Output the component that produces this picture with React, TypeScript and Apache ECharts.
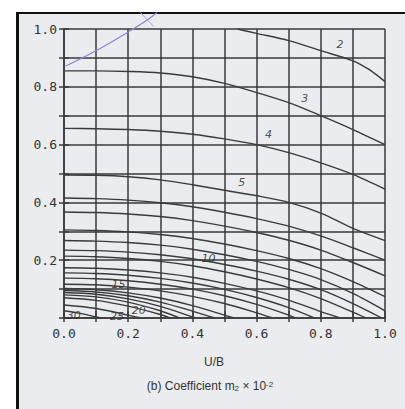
import React, { useEffect, useRef } from 'react';
import * as echarts from 'echarts';

// Tick labels (only even tenths are labelled)
const X_LABELS = ['0.0', '0.2', '0.4', '0.6', '0.8', '1.0'];
const Y_LABELS = ['', '0.2', '0.4', '0.6', '0.8', '1.0'];

// Curves of m2 (x = U/B, y = ordinate)
const C2 = [[0.54, 1.0], [0.6, 0.985], [0.7, 0.96], [0.8, 0.925], [0.9, 0.89], [0.95, 0.86], [1.0, 0.818]];
const C3 = [[0, 0.855], [0.1, 0.855], [0.2, 0.853], [0.3, 0.848], [0.4, 0.835], [0.5, 0.812], [0.6, 0.78], [0.7, 0.745], [0.8, 0.7], [0.9, 0.652], [1.0, 0.6]];
const C4 = [[0, 0.656], [0.1, 0.655], [0.2, 0.652], [0.3, 0.646], [0.4, 0.636], [0.5, 0.62], [0.6, 0.6], [0.7, 0.572], [0.8, 0.537], [0.9, 0.497], [1.0, 0.446]];
const C5 = [[0, 0.495], [0.1, 0.494], [0.2, 0.489], [0.3, 0.478], [0.4, 0.461], [0.5, 0.442], [0.6, 0.423], [0.7, 0.4], [0.8, 0.363], [0.9, 0.31], [1.0, 0.268]];
const C6 = [[0, 0.415], [0.1, 0.413], [0.2, 0.408], [0.3, 0.399], [0.4, 0.385], [0.5, 0.366], [0.6, 0.344], [0.7, 0.318], [0.8, 0.284], [0.9, 0.243], [1.0, 0.2]];
const C7 = [[0, 0.367], [0.1, 0.365], [0.2, 0.36], [0.3, 0.351], [0.4, 0.337], [0.5, 0.318], [0.6, 0.296], [0.7, 0.269], [0.8, 0.235], [0.9, 0.192], [1.0, 0.146]];
const C8 = [[0, 0.305], [0.1, 0.303], [0.2, 0.298], [0.3, 0.289], [0.4, 0.275], [0.5, 0.256], [0.6, 0.233], [0.7, 0.206], [0.8, 0.171], [0.9, 0.126], [1.0, 0.074]];
const C9 = [[0, 0.268], [0.1, 0.266], [0.2, 0.261], [0.3, 0.252], [0.4, 0.238], [0.5, 0.219], [0.6, 0.196], [0.7, 0.168], [0.8, 0.133], [0.9, 0.085], [1.0, 0.025]];
const C10 = [[0, 0.235], [0.1, 0.233], [0.2, 0.228], [0.3, 0.219], [0.4, 0.205], [0.5, 0.185], [0.6, 0.162], [0.7, 0.134], [0.8, 0.098], [0.9, 0.05], [0.99, 0]];
const C11 = [[0, 0.214], [0.1, 0.212], [0.2, 0.206], [0.3, 0.196], [0.4, 0.181], [0.5, 0.16], [0.6, 0.135], [0.7, 0.105], [0.8, 0.067], [0.9, 0.02], [0.94, 0]];
const C12 = [[0, 0.174], [0.1, 0.172], [0.2, 0.166], [0.3, 0.156], [0.4, 0.141], [0.5, 0.12], [0.6, 0.094], [0.7, 0.062], [0.8, 0.022], [0.86, 0]];
const C13 = [[0, 0.156], [0.1, 0.154], [0.2, 0.148], [0.3, 0.137], [0.4, 0.121], [0.5, 0.099], [0.6, 0.071], [0.7, 0.036], [0.78, 0]];
const C14 = [[0, 0.138], [0.1, 0.136], [0.2, 0.129], [0.3, 0.117], [0.4, 0.1], [0.5, 0.077], [0.6, 0.047], [0.7, 0.01], [0.72, 0]];
const C15 = [[0, 0.117], [0.1, 0.115], [0.2, 0.107], [0.3, 0.094], [0.4, 0.075], [0.5, 0.05], [0.6, 0.018], [0.65, 0]];
const C16 = [[0, 0.102], [0.1, 0.098], [0.2, 0.087], [0.3, 0.069], [0.4, 0.043], [0.5, 0.01], [0.53, 0]];
const C17 = [[0, 0.095], [0.1, 0.09], [0.2, 0.077], [0.3, 0.055], [0.4, 0.024], [0.47, 0]];
const C18 = [[0, 0.088], [0.1, 0.082], [0.2, 0.066], [0.3, 0.04], [0.4, 0.004], [0.41, 0]];
const C19 = [[0, 0.08], [0.1, 0.073], [0.2, 0.055], [0.3, 0.025], [0.36, 0]];
const C20 = [[0, 0.07], [0.1, 0.061], [0.2, 0.041], [0.3, 0.012], [0.33, 0]];
const C25 = [[0, 0.045], [0.1, 0.033], [0.2, 0.01], [0.24, 0]];
const C30 = [[0, 0.025], [0.05, 0.016], [0.1, 0.004], [0.12, 0]];

const CURVES = [C2, C3, C4, C5, C6, C7, C8, C9, C10, C11, C12, C13, C14, C15, C16, C17, C18, C19, C20, C25, C30];

// Curve labels: [x, y, text]
const CURVE_LABELS = [
  [0.86, 0.945, '2'],
  [0.75, 0.76, '3'],
  [0.637, 0.634, '4'],
  [0.554, 0.468, '5'],
  [0.45, 0.205, '10'],
  [0.17, 0.115, '15'],
  [0.233, 0.026, '20'],
  [0.165, 0.006, '25'],
  [0.03, 0.008, '30'],
];

// Blue pen mark on the scan
const PEN_A = [[0.005, 0.872], [0.1, 0.925], [0.2, 0.99], [0.264, 1.035], [0.29, 1.057]];
const PEN_B = [[0.238, 1.057], [0.279, 1.009]];

const INK = '#3a3a3a';

export default function App() {
  const ref = useRef<HTMLDivElement>(null);
  useEffect(() => {
    if (!ref.current) return;
    const chart = echarts.init(ref.current, undefined, { renderer: 'svg' });
    const axisStyle = { color: INK, width: 1.5 };
    const labelFont = { fontFamily: 'DejaVu Sans Mono', fontSize: 13, color: '#333' };
    const series: any[] = CURVES.map((pts) => ({
      type: 'line',
      data: pts,
      smooth: 0.3,
      showSymbol: false,
      silent: true,
      lineStyle: { color: INK, width: 1.4 },
    }));
    series.push({
      type: 'line',
      data: PEN_A,
      smooth: 0.3,
      showSymbol: false,
      silent: true,
      clip: false,
      lineStyle: { color: '#8585d8', width: 1.2 },
    });
    series.push({
      type: 'line',
      data: PEN_B,
      showSymbol: false,
      silent: true,
      clip: false,
      lineStyle: { color: '#9a9ade', width: 1 },
    });
    series.push({
      type: 'scatter',
      data: CURVE_LABELS.map((d) => ({ value: [d[0], d[1]], name: d[2] })),
      symbolSize: 0,
      silent: true,
      clip: false,
      label: {
        show: true,
        position: 'inside',
        formatter: (p: any) => p.name,
        fontFamily: 'DejaVu Sans',
        fontStyle: 'italic',
        fontSize: 11,
        color: '#222',
      },
    });
    chart.setOption({
      animation: false,
      backgroundColor: 'transparent',
      grid: { left: 64, right: 20, top: 29, bottom: 91 },
      xAxis: [
        {
          type: 'value',
          min: 0,
          max: 1,
          interval: 0.1,
          position: 'bottom',
          axisLine: { show: true, lineStyle: axisStyle },
          axisTick: { show: true, inside: false, length: 4, lineStyle: axisStyle },
          splitLine: { show: true, lineStyle: axisStyle },
          axisLabel: {
            ...labelFont,
            margin: 9,
            formatter: (v: number) => {
              const k = Math.round(v * 10);
              return k % 2 === 0 ? X_LABELS[k / 2] : '';
            },
          },
        },
        {
          type: 'value',
          min: 0,
          max: 1,
          interval: 0.1,
          position: 'top',
          axisLine: { show: false },
          axisTick: { show: true, inside: false, length: 7, lineStyle: axisStyle },
          splitLine: { show: false },
          axisLabel: { show: false },
        },
      ],
      yAxis: [
        {
          type: 'value',
          min: 0,
          max: 1,
          interval: 0.1,
          position: 'left',
          axisLine: { show: true, lineStyle: axisStyle },
          axisTick: { show: true, inside: false, length: 5, lineStyle: axisStyle },
          splitLine: { show: true, lineStyle: axisStyle },
          axisLabel: {
            ...labelFont,
            margin: 7,
            formatter: (v: number) => {
              const k = Math.round(v * 10);
              return k % 2 === 0 ? Y_LABELS[k / 2] : '';
            },
          },
        },
        {
          type: 'value',
          min: 0,
          max: 1,
          interval: 0.1,
          position: 'right',
          axisLine: { show: false },
          axisTick: { show: true, inside: false, length: 5, lineStyle: axisStyle },
          splitLine: { show: false },
          axisLabel: { show: false },
        },
      ],
      series,
      graphic: [
        {
          type: 'text',
          x: 214,
          y: 362,
          style: {
            text: 'U/B',
            fontFamily: 'Liberation Sans',
            fontSize: 12,
            fill: '#333',
            align: 'center',
            verticalAlign: 'middle',
          },
        },
        {
          type: 'text',
          x: 210,
          y: 386,
          style: {
            text: '(b) Coefficient m{sub|2} × 10{sup|-2}',
            fontFamily: 'Liberation Sans',
            fontSize: 12,
            fill: '#333',
            align: 'center',
            verticalAlign: 'middle',
            rich: {
              sub: { fontSize: 8, fontFamily: 'Liberation Sans', fill: '#333', verticalAlign: 'bottom', padding: [4, 0, 0, 0] },
              sup: { fontSize: 8, fontFamily: 'Liberation Sans', fill: '#333', verticalAlign: 'top', padding: [0, 0, 4, 0] },
            },
          },
        },
      ],
    });
    return () => chart.dispose();
  }, []);

  return (
    <div style={{ position: 'fixed', left: 0, top: 0, width: 405, height: 409, background: '#ffffff' }}>
      <div
        style={{
          position: 'absolute',
          left: 16,
          top: 12,
          width: 386,
          height: 400,
          background: '#eaecf0',
          borderLeft: '3px solid #111',
          borderTop: '2px solid #111',
          borderRight: '2px solid #111',
        }}
      />
      <div ref={ref} style={{ position: 'absolute', left: 0, top: 0, width: 405, height: 409 }} />
    </div>
  );
}
